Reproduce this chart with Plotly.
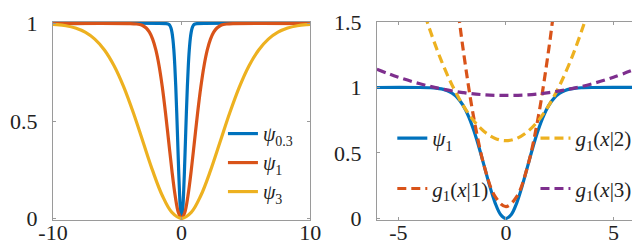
import plotly.graph_objects as go

# ---------------- data ----------------
# left panel
psi03_x = [-10, -1.2, -1.05, -0.975, -0.9, -0.825, -0.75, -0.675, -0.6, -0.525, -0.45, -0.375, -0.3, -0.225, -0.15, -0.075, 0,
           0.075, 0.15, 0.225, 0.3, 0.375, 0.45, 0.525, 0.6, 0.675, 0.75, 0.825, 0.9, 0.975, 1.05, 1.2, 10]
psi03_y = [1, 0.9997, 0.9978, 0.9949, 0.9889, 0.9772, 0.9561, 0.9204, 0.8647, 0.7837, 0.6753, 0.5422, 0.3935, 0.2452, 0.1175, 0.0308, 0,
           0.0308, 0.1175, 0.2452, 0.3935, 0.5422, 0.6753, 0.7837, 0.8647, 0.9204, 0.9561, 0.9772, 0.9889, 0.9949, 0.9978, 0.9997, 1]

psi1_x = [-10, -4, -3.5, -3.25, -3, -2.75, -2.5, -2.25, -2, -1.75, -1.5, -1.25, -1, -0.75, -0.5, -0.25, 0,
          0.25, 0.5, 0.75, 1, 1.25, 1.5, 1.75, 2, 2.25, 2.5, 2.75, 3, 3.25, 3.5, 4, 10]
psi1_y = [1, 0.9997, 0.9978, 0.9949, 0.9889, 0.9772, 0.9561, 0.9204, 0.8647, 0.7837, 0.6753, 0.5422, 0.3935, 0.2452, 0.1175, 0.0308, 0,
          0.0308, 0.1175, 0.2452, 0.3935, 0.5422, 0.6753, 0.7837, 0.8647, 0.9204, 0.9561, 0.9772, 0.9889, 0.9949, 0.9978, 0.9997, 1]

psi3_x = [-10, -9.75, -9, -8.25, -7.5, -6.75, -6, -5.25, -4.5, -3.75, -3, -2.25, -1.5, -0.75, 0,
          0.75, 1.5, 2.25, 3, 3.75, 4.5, 5.25, 6, 6.75, 7.5, 8.25, 9, 9.75, 10]
psi3_y = [0.9961, 0.9949, 0.9889, 0.9772, 0.9561, 0.9204, 0.8647, 0.7837, 0.6753, 0.5422, 0.3935, 0.2452, 0.1175, 0.0308, 0,
          0.0308, 0.1175, 0.2452, 0.3935, 0.5422, 0.6753, 0.7837, 0.8647, 0.9204, 0.9561, 0.9772, 0.9889, 0.9949, 0.9961]

# right panel
rpsi_x = [-6, -4, -3.5, -3.25, -3, -2.75, -2.5, -2.25, -2, -1.75, -1.5, -1.25, -1, -0.75, -0.5, -0.25, 0,
          0.25, 0.5, 0.75, 1, 1.25, 1.5, 1.75, 2, 2.25, 2.5, 2.75, 3, 3.25, 3.5, 4, 6]
rpsi_y = [1, 0.9997, 0.9978, 0.9949, 0.9889, 0.9772, 0.9561, 0.9204, 0.8647, 0.7837, 0.6753, 0.5422, 0.3935, 0.2452, 0.1175, 0.0308, 0,
          0.0308, 0.1175, 0.2452, 0.3935, 0.5422, 0.6753, 0.7837, 0.8647, 0.9204, 0.9561, 0.9772, 0.9889, 0.9949, 0.9978, 0.9997, 1]

g1_x = [-2.5, -2.25, -2, -1.5, -1, -0.5, 0, 0.5, 1, 1.5, 2, 2.25, 2.5]
g1_y = [1.986, 1.625, 1.303, 0.772, 0.3935, 0.166, 0.090, 0.166, 0.3935, 0.772, 1.303, 1.625, 1.986]

g2_x = [-4.5, -4, -3.5, -3, -2.5, -2, -1.5, -1, -0.5, 0, 0.5, 1, 1.5, 2, 2.5, 3, 3.5, 4, 4.5]
g2_y = [1.964, 1.677, 1.423, 1.203, 1.017, 0.865, 0.746, 0.662, 0.611, 0.594,
        0.611, 0.662, 0.746, 0.865, 1.017, 1.203, 1.423, 1.677, 1.964]

g3_x = [-6, -5, -4, -3, -2, -1, 0, 1, 2, 3, 4, 5, 6]
g3_y = [1.139, 1.078, 1.028, 0.989, 0.961, 0.944, 0.939, 0.944, 0.961, 0.989, 1.028, 1.078, 1.139]

left_xticks = [-10, 0, 10]
left_xtext = ["-10", "0", "10"]
left_yticks = [0, 0.5, 1]
left_ytext = ["0", "0.5", "1"]
right_xticks = [-5, 0, 5]
right_xtext = ["-5", "0", "5"]
right_yticks = [0, 0.5, 1, 1.5]
right_ytext = ["0", "0.5", "1", "1.5"]

# ---------------- styles ----------------
BLUE = "#0072BD"
ORANGE = "#D95319"
YELLOW = "#EDB120"
PURPLE = "#7E2F8E"
FONT = "Liberation Serif"
AX = "#9a9a9a"
DASH = "9px,5px"

fig = go.Figure()

def add(x, y, name, color, xa, ya, legend, dash="solid", width=3.2, group=None):
    fig.add_trace(go.Scatter(
        x=x, y=y, name=name, mode="lines",
        line=dict(color=color, width=width, dash=dash, shape="spline", smoothing=1.0),
        xaxis=xa, yaxis=ya, legend=legend, legendgroup=group or name,
    ))

add(psi03_x, psi03_y, "<i>ψ</i><sub>0.3</sub>", BLUE, "x", "y", "legend")
add(psi1_x, psi1_y, "<i>ψ</i><sub>1</sub>", ORANGE, "x", "y", "legend")
add(psi3_x, psi3_y, "<i>ψ</i><sub>3</sub>", YELLOW, "x", "y", "legend")

add(rpsi_x, rpsi_y, "<i>ψ</i><sub>1</sub>", BLUE, "x2", "y2", "legend2", group="a")
add(g1_x, g1_y, "<i>g</i><sub>1</sub>(<i>x</i>|1)", ORANGE, "x2", "y2", "legend2", dash=DASH, group="b")
add(g2_x, g2_y, "<i>g</i><sub>1</sub>(<i>x</i>|2)", YELLOW, "x2", "y2", "legend3", dash=DASH, group="c")
add(g3_x, g3_y, "<i>g</i><sub>1</sub>(<i>x</i>|3)", PURPLE, "x2", "y2", "legend3", dash=DASH, group="d")

axcommon = dict(showline=True, linecolor=AX, linewidth=1, mirror="ticks", ticks="inside",
                ticklen=3, tickcolor=AX, showgrid=False, zeroline=False,
                ticklabeloverflow="allow",
                tickfont=dict(family=FONT, size=22, color="#222222"))

fig.update_layout(
    width=640, height=244,
    margin=dict(l=45, r=2, t=10, b=32),
    paper_bgcolor="white", plot_bgcolor="white",
    font=dict(family=FONT),
    showlegend=True,
    xaxis=dict(domain=[0, 0.4418], range=[-10, 10], tickvals=left_xticks, ticktext=left_xtext,
               ticklabelstandoff=-7, anchor="y", **axcommon),
    yaxis=dict(domain=[0, 1], range=[-0.008, 1.008], tickvals=left_yticks, ticktext=left_ytext,
               ticklabelstandoff=10, anchor="x", **axcommon),
    xaxis2=dict(domain=[0.5565, 1], range=[-6, 6], tickvals=right_xticks, ticktext=right_xtext,
                ticklabelstandoff=-7, anchor="y2", **axcommon),
    yaxis2=dict(domain=[0, 1], range=[-0.012, 1.5], tickvals=right_yticks, ticktext=right_ytext,
                ticklabelstandoff=10, anchor="x2", **axcommon),
    legend=dict(x=0.292, y=0.535, xanchor="left", yanchor="top", bgcolor="rgba(0,0,0,0)",
                font=dict(family=FONT, size=20, color="#222222"), tracegroupgap=0),
    legend2=dict(x=0.583, y=0.515, xanchor="left", yanchor="top", bgcolor="rgba(0,0,0,0)",
                 font=dict(family=FONT, size=21, color="#222222"), tracegroupgap=20),
    legend3=dict(x=0.829, y=0.515, xanchor="left", yanchor="top", bgcolor="rgba(0,0,0,0)",
                 font=dict(family=FONT, size=21, color="#222222"), tracegroupgap=20),
)

fig.write_html("out.html")
